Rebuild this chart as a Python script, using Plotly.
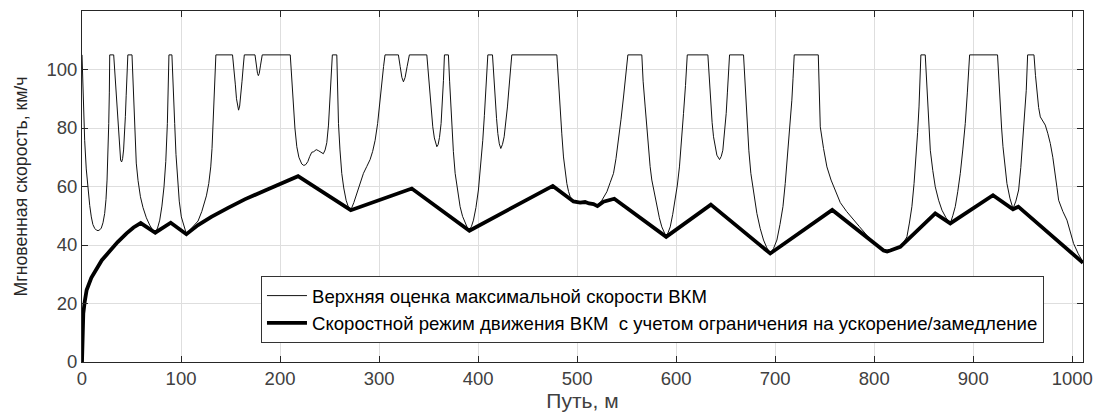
import plotly.graph_objects as go

# ---- Data ----
upper_x = [0, 1.2, 2.7, 4.3, 6.1, 7.8, 9.4, 11, 12.8, 14.5, 16.2, 18, 19.5, 21.2, 22.9, 24.2, 25.3, 26.2, 27, 27.6,
           28, 32, 33.2, 34.5, 35.7, 36.8, 37.8, 39, 40, 41, 42, 42.9, 43.8, 44.6, 45.4, 46.3, 50.5, 51.5, 52.4, 53.2,
           54.8, 56.6, 59, 61.6, 65, 68.4, 71.2, 74, 76.3, 78.5, 80.7, 82.8, 84.6, 86.2, 87.2, 87.8, 90.8, 91.7, 92.7,
           93.6, 94.9, 96.3, 98.2, 100.3, 102.8, 105.4, 108, 112, 117.2, 121, 123.5, 125.6, 128, 130, 131.3, 132.3,
           133.2, 134, 135.2, 152, 153.5, 154.8, 156, 157.2, 158.1, 159.2, 160.4, 161.6, 162.7, 163.9, 174.7, 176,
           177.2, 178.1, 179, 180.3, 182, 210.3, 211.3, 212.3, 213.5, 215, 216.9, 219, 221.9, 224, 226, 228, 230,
           232, 234, 236.5, 238.5, 240.5, 242, 243.7, 245.5, 247.2, 248.9, 250.5, 251.7, 252.8, 257.3, 258.2, 259,
           260.5, 262.3, 264.3, 266.7, 269, 271.4, 274.5, 277.5, 281, 284.2, 287.5, 290.9, 293.5, 296, 298.5, 300.5,
           302.5, 304.5, 306, 319.5, 321.3, 323, 324.6, 326.3, 328.3, 330.6, 348.2, 349.5, 350.6, 351.5, 352.8, 354.2,
           355.8, 357.2, 358.3, 359.6, 361, 362.6, 363.6, 364.4, 365, 366, 370, 371.2, 372.3, 373.4, 375, 376.8,
           379.2, 381.8, 384.3, 386.9, 389, 391.2, 393.3, 395.3, 397.8, 400.3, 402.6, 404.7, 406.3, 407.8, 409.8,
           414.5, 415.8, 417.2, 418.6, 419.9, 421.4, 422.9, 424.6, 426.3, 428, 429.6, 431, 432.3, 434, 479.5, 481.1,
           482.8, 484.5, 486.2, 487.9, 489.6, 491.3, 493, 496.3, 503, 508, 512, 516.5, 520.5, 525, 527.5, 530, 533.3,
           536.7, 539.2, 541.7, 544.3, 546.8, 549, 551.2, 565.3, 566.6, 568.7, 570.4, 572, 573.7, 575.4, 578, 580.5,
           583, 585.5, 587.7, 589.9, 592, 594, 596.5, 599, 601.2, 603.3, 605.4, 607.4, 609.4, 611.2, 632, 633.5, 635,
           636.3, 637.7, 639.4, 641.1, 643.8, 645.5, 647.1, 648.8, 650.5, 651.7, 652.8, 653.9, 668, 669.7, 671.4,
           673.4, 675.4, 678.5, 681.5, 684.8, 688.2, 691.6, 695, 698.3, 701.7, 704.8, 707.8, 710.1, 712.4, 714.6,
           716.8, 718, 719.2, 743.5, 744.5, 745.5, 748.8, 752.2, 756.4, 760.6, 765.7, 772, 779.1, 785, 792.6, 800,
           809.4, 813, 816.2, 820, 826.3, 829.5, 833, 835.5, 838, 840.2, 842.4, 843.8, 845.2, 846.2, 847.1, 851.5,
           852.7, 853.9, 855.2, 856.6, 859.1, 861.6, 865, 868.4, 872.5, 876.8, 879.3, 881.8, 884.3, 886.9, 889.4,
           891.9, 894, 896.3, 924.5, 926, 927.3, 928.6, 930, 932, 934, 937, 940.1, 943, 945.8, 948, 950.2, 951.9,
           953.5, 954.9, 961.3, 962.8, 964.3, 966, 967.7, 970.2, 972.7, 975.2, 977.8, 980.3, 982.8, 984.5, 986.2,
           990.4, 994.6, 998, 1001.3, 1006, 1010.8]
upper_y = [105, 90, 75.8, 66, 58.8, 53.5, 49.6, 47, 45.7, 45.1, 44.9, 45.2, 45.8, 47.6, 50.8, 55.5, 62.2, 70, 81.5, 92,
           105, 105, 99, 93, 87, 80, 73.5, 69, 68.4, 69.5, 72.5, 77, 84, 91, 98, 105, 105, 95, 86, 77,
           68, 62, 56.5, 52.8, 49.3, 46.8, 45.2, 44.3, 45.8, 48.5, 53.3, 59.9, 68.5, 81.5, 92, 105, 105, 95, 87,
           81.5, 71, 62.2, 55, 49.6, 46.3, 43.8, 44.8, 46.3, 48.2, 51.5, 54, 56.8, 61, 66.7, 73, 81.5,
           89, 96.3, 105, 105, 100.5, 95, 90, 87, 86.1, 87.5, 91, 96, 100.5, 105, 105, 101.5,
           98.7, 97.9, 98.7, 101.5, 105, 105, 99, 93, 87.2, 80, 73.6, 70, 67.7, 67.2, 67.5, 68.5, 70.3,
           71.7, 71.9, 72.6, 72.3, 71.8, 71.4, 71.2, 72.5, 75, 81, 89.5, 97, 105, 105, 92, 81.5,
           72.5, 64.5, 59.5, 55.3, 53, 51.9, 54.5, 57.6, 61.3, 64.5, 66.8, 69.2, 72, 75.8, 81.5, 88.5,
           95, 101, 105, 105, 101, 97.3, 95.8, 97.3, 101, 105, 105, 99.5, 94, 90.6, 85.3, 80.4,
           76.6, 74.3, 73.6, 74.3, 76.8, 81.5, 87, 92.5, 96.3, 105, 105, 96, 88, 81.5, 72, 64.5,
           58.4, 53.1, 49.8, 47.4, 46, 45.1, 46.4, 48.5, 52.8, 58.8, 66.5, 75.8, 84.2, 92.9, 105,
           105, 97, 89.5, 83.3, 78.1, 74.6, 73, 74.4, 77, 81.5, 87.2, 93, 98.6, 105, 105, 95,
           87.2, 78, 70.1, 65, 61, 58.3, 56.5, 55, 54.7, 54.9, 54.4, 54.2, 53.5, 55.3, 56.6, 58.2, 61.3,
           64.5, 69.5, 75.8, 83, 90.6, 97.5, 105, 105, 96, 87.2, 79.5, 72.4, 66.8, 62.2, 57.3, 53.1,
           49.3, 46.2, 44.3, 42.8, 44.4, 46.2, 50.5, 55.3, 60.5, 66.7, 75.2, 85, 94.5, 105, 105, 96, 87.2,
           81.8, 77, 73.5, 70.7, 69.2, 70.3, 72.4, 78, 85, 92, 98.6, 105, 105, 93, 81.5,
           72.2, 64.5, 57, 50.8, 45.7, 41.7, 39, 37.1, 38.8, 41.7, 47, 53.1, 61, 70.1, 79.5,
           89.5, 97, 105, 105, 92, 80.4, 73, 66.7, 62.2, 58.6, 54.5, 51.5, 48.5, 46.3, 43.3, 40.6,
           38.4, 38.1, 38.4, 38.9, 39.6, 40.8, 42.8, 47.5, 53.1, 61, 70.1, 78.5, 87.2, 95, 105, 105,
           96, 87.2, 79.5, 72.4, 65.5, 59.9, 55.3, 51.9, 49.3, 47.4, 50, 53.1, 58.2, 64.5, 72.5,
           81.5, 92, 105, 105, 95, 87.2, 80, 73.6, 67, 61, 56, 52.4, 55, 58.8, 66.5, 75.8, 84.2,
           92.9, 105, 105, 98, 91.8, 87, 83.8, 82.6, 81, 78.2, 74.7, 70, 64.5, 59.7, 55.3,
           51.5, 48.5, 44.5, 40.5, 37, 34.2]

lower_x = [0, 0.5, 1.3, 2.7, 4.7, 9.4, 14.8, 20, 28.3, 36, 45, 52, 59.3, 74, 89.6, 105.4, 117.2, 130.6, 147.5,
           164.3, 186.6, 198, 218.2, 271.4, 333, 391.2, 475.4, 496.3, 503, 508, 512, 516.5, 520.5, 526.6, 537.5,
           589.9, 635, 695, 757.6, 809.4, 813, 816.2, 820, 826.3, 861.6, 876.8, 919.9, 940.1, 945.5, 1010.8]
lower_y = [0, 10, 16.6, 20.5, 24.6, 28.8, 32, 34.8, 38, 41, 44, 46, 47.5, 44.2, 47.6, 43.7, 46.8, 49.6, 52.7,
           55.6, 58.9, 60.5, 63.5, 51.9, 59.3, 44.9, 60.2, 54.9, 54.5, 54.7, 54.2, 54, 53.3, 54.8, 55.8,
           42.8, 53.8, 37.1, 52, 38.1, 37.8, 38.1, 38.6, 39.4, 50.8, 47.4, 57, 52.2, 53.1, 33.9]

x_ticks = [0, 100, 200, 300, 400, 500, 600, 700, 800, 900, 1000]
y_ticks = [0, 20, 40, 60, 80, 100]

name_upper = "Верхняя оценка максимальной скорости ВКМ"
name_lower = "Скоростной режим движения ВКМ  с учетом ограничения на ускорение/замедление"

FONT = "Liberation Sans, Arial, sans-serif"

fig = go.Figure()
fig.add_trace(go.Scatter(x=upper_x, y=upper_y, mode="lines", name=name_upper,
                         line=dict(color="#111111", width=1)))
fig.add_trace(go.Scatter(x=lower_x, y=lower_y, mode="lines", name=name_lower,
                         line=dict(color="#000000", width=3.8)))

axis_common = dict(showline=True, linecolor="#262626", linewidth=1, mirror="allticks",
                   ticks="inside", ticklen=6, tickcolor="#262626",
                   showgrid=True, gridcolor="#dedede", gridwidth=1, zeroline=False,
                   automargin=False,
                   tickfont=dict(family=FONT, size=18.5, color="#404040"))

fig.update_xaxes(range=[0, 1010.8], tickvals=x_ticks, **axis_common,
                 title=dict(text="Путь, м", font=dict(family=FONT, size=21, color="#404040"), standoff=2))
fig.update_yaxes(range=[0, 120], tickvals=y_ticks, **axis_common,
                 title=dict(text="Мгновенная скорость, км/ч", font=dict(family=FONT, size=17.7, color="#262626"), standoff=14))

fig.update_layout(
    width=1100, height=417,
    margin=dict(l=82, r=17, t=11, b=55),
    paper_bgcolor="white", plot_bgcolor="white",
    font=dict(family=FONT, color="#000000"),
    legend=dict(x=0.1788, y=0.245, xanchor="left", yanchor="top",
                bgcolor="white", bordercolor="#333333", borderwidth=1,
                font=dict(family=FONT, size=18.6, color="#000000"),
                tracegroupgap=0, itemwidth=40),
    showlegend=True,
)

fig.write_html("out.html", config={"displayModeBar": False},
               post_script="document.body.style.margin='0';document.body.style.padding='0';document.body.style.overflow='hidden';")
